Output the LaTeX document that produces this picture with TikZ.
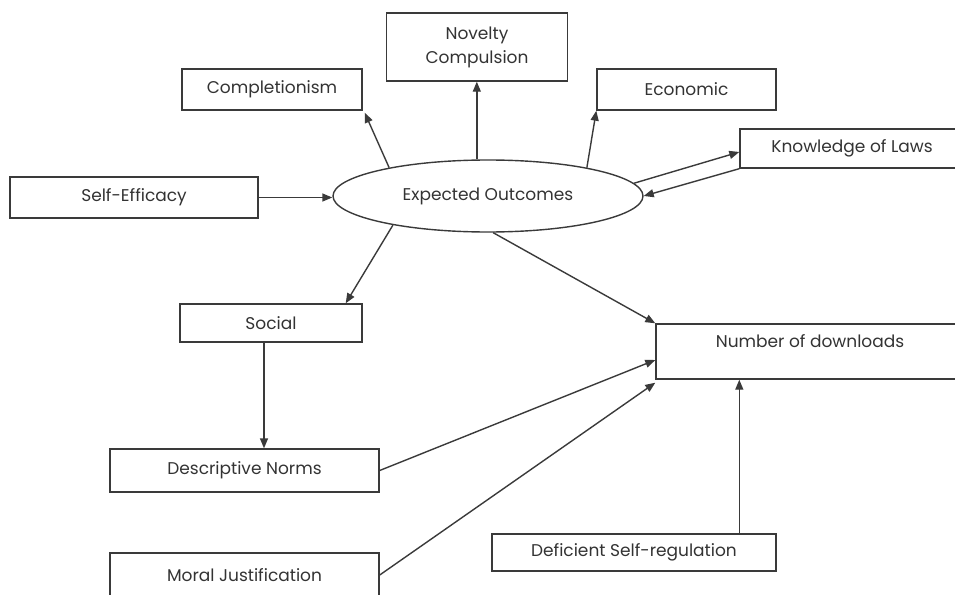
\documentclass[tikz,border=0pt]{standalone}
\usepackage{fontspec}
\setmainfont{Poppins}
\usetikzlibrary{arrows.meta,shapes.geometric,calc}
\definecolor{linec}{HTML}{3A3A3A}
\definecolor{textc}{HTML}{333333}
\tikzset{
  box/.style={draw=linec, line width=1.4pt, inner sep=0pt, text=textc, font=\fontsize{17}{24}\selectfont, align=center},
  arr/.style={draw=linec, line width=1.4pt, -{Triangle[length=10pt,width=8pt]}},
}
\begin{document}
\begin{tikzpicture}[x=1pt,y=-1pt]
\useasboundingbox (0,0) rectangle (955,594);
\clip (0,0) rectangle (955,594);
\node[box, minimum width=180pt, minimum height=41pt] (cp) at (272,89.5) {Completionism};
\node[box, minimum width=181pt, minimum height=68pt] (nc) at (477,47) {Novelty\\Compulsion};
\node[box, minimum width=179pt, minimum height=41pt] (ec) at (686.5,89.5) {Economic};
\node[box, minimum width=224pt, minimum height=39pt] (kl) at (852,148.5) {Knowledge of Laws};
\node[box, minimum width=248pt, minimum height=41pt] (se) at (134,197.5) {Self-Efficacy};
\node[box, ellipse, minimum width=310pt, minimum height=72pt] (eo) at (488,196) {Expected Outcomes};
\node[box, minimum width=182pt, minimum height=38pt] (so) at (271,323) {Social};
\node[box, minimum width=269pt, minimum height=43pt] (dn) at (244.5,470.5) {Descriptive Norms};
\node[box, minimum width=269pt, minimum height=44pt] (mj) at (244.5,575) {Moral Justification};
\node[box, minimum width=308pt, minimum height=55pt, text depth=20pt] (nd) at (810,351.5) {Number of downloads};
\node[box, minimum width=284pt, minimum height=37pt] (ds) at (634,552.5) {Deficient Self-regulation};

\coordinate (s1) at ($(so.south)+(-7,0)$);
\coordinate (d1) at ($(ds.north west)+(248,0)$);

\draw[arr] (se.east) -- (se.east -| eo.west);
\draw[arr] (eo.164) -- ($(cp.south east)+(2,2)$);
\draw[arr] (eo.107) -- (eo.107 |- nc.south);
\draw[arr] (eo.16) -- (ec.south west);
\draw[arr] (eo.5) -- ($(kl.west)+(0,3.5)$);
\draw[arr] (kl.south west) -- (eo.0.7);
\draw[arr] (eo.197) -- ($(so.north east)+(-17,0)$);
\draw[arr] (eo.-82) -- (nd.north west);
\draw[arr] (s1) -- (s1 |- dn.north);
\draw[arr] (dn.east) -- ($(nd.west)+(0,8.5)$);
\draw[arr] (mj.east) -- ($(nd.south west)+(0,3)$);
\draw[arr] (d1) -- (d1 |- nd.south);
\end{tikzpicture}
\end{document}
